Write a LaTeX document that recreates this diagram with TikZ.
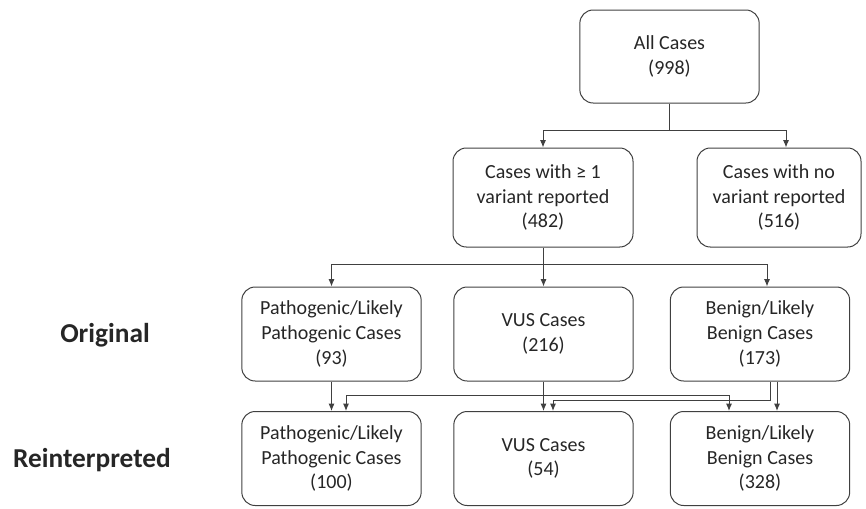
\documentclass[tikz,border=0pt]{standalone}
\usepackage{fontspec}
\setmainfont{Carlito}
\usetikzlibrary{arrows.meta,calc}

\begin{document}
\begin{tikzpicture}[x=0.75pt,y=-0.75pt,
    box/.style={draw=black!75, line width=0.75pt, rounded corners=10pt, align=center,
      text=black!85, font=\fontsize{15}{18.5}\selectfont, inner sep=0pt,
      minimum width=134.5pt, minimum height=70.5pt},
    link/.style={draw=black!75, line width=0.75pt},
    arr/.style={link, -{Latex[length=5.5pt,width=4.5pt]}},
    rowlabel/.style={font=\fontsize{20.5}{24}\selectfont\bfseries, text=black!85}]
    \useasboundingbox (0,0) rectangle (866,508);

    % Top of the tree
    \node[box, minimum height=69.75pt] (all) at (669.5,56.5) {All Cases\\(998)};
    \node[box, minimum width=135pt, minimum height=74.25pt] (some) at (543,197.5)
      {Cases with ≥ 1\\variant reported\\(482)};
    \node[box, minimum width=123pt, minimum height=74.25pt] (none) at (779,197.5)
      {Cases with no\\variant reported\\(516)};

    % Original classification
    \node[box] (pO) at (331.5,334) {Pathogenic/Likely\\Pathogenic Cases\\(93)};
    \node[box] (vO) at (543.5,334) {VUS Cases\\(216)};
    \node[box] (bO) at (760,334) {Benign/Likely\\Benign Cases\\(173)};

    % Reinterpreted classification
    \node[box] (pR) at (331.5,458.5) {Pathogenic/Likely\\Pathogenic Cases\\(100)};
    \node[box] (vR) at (543.5,458.5) {VUS Cases\\(54)};
    \node[box] (bR) at (760,458.5) {Benign/Likely\\Benign Cases\\(328)};

    % Row labels
    \node[rowlabel] (lblO) at (105,335) {Original};
    \node[rowlabel] (lblR) at (92,460) {Reinterpreted};

    % Split of all cases
    \coordinate (s1) at (669.5,130);
    \draw[link] (all.south) -- (s1);
    \draw[arr] (s1) -| (some.north);
    \draw[arr] (s1) -| ($(none.north)+(7,0)$);

    % Split of reported cases
    \coordinate (s2) at (543,264);
    \draw[link] (some.south) -- (s2);
    \draw[arr] (s2) -| (pO.north);
    \draw[arr] (s2) -| (vO.north);
    \draw[arr] (s2) -| ($(bO.north)+(7,0)$);

    % Reinterpretation
    \draw[arr] (pO.south) -- (pR.north);
    \draw[arr] (vO.south) -- (vR.north);
    \coordinate (s3) at (543.5,395);
    \draw[arr] (s3) -| ($(pR.north)+(14.5,0)$);
    \draw[arr] (s3) -| ($(bR.north)+(-31,0)$);
    \draw[arr] ($(bO.south)+(10,0)$) |- ($(vR.north)+(9.5,-11)$) -- ($(vR.north)+(9.5,0)$);
    \draw[arr] ($(bO.south)+(17,0)$) -- ($(bR.north)+(17,0)$);
\end{tikzpicture}
\end{document}
